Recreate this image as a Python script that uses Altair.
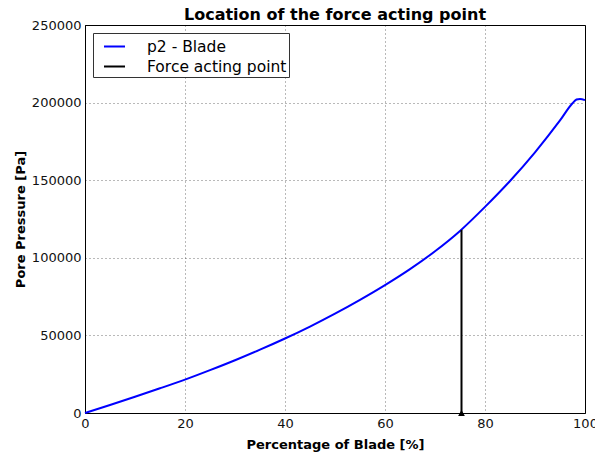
import altair as alt
import pandas as pd

# Curve: percentage of blade [%] vs pore pressure [Pa]
pct = [0, 5, 10, 15, 20, 25, 30, 35, 40, 45, 50, 55, 60, 65, 70, 75, 80, 85,
       90, 95, 97.5, 98.3, 99, 100]
pressure = [0, 5200, 10500, 15900, 21500, 27600, 34000, 40800, 48000, 55700,
            64000, 72900, 82400, 92700, 104200, 117300, 132800, 149500,
            168000, 188500, 199600, 202000, 202400, 201600]

# Force acting point
force_x = [75.3]
force_p = [118000]

series_names = ["p2 - Blade", "Force acting point"]
series_colors = ["#0000ff", "#000000"]

x_ticks = [0, 20, 40, 60, 80, 100]
y_ticks = [0, 50000, 100000, 150000, 200000, 250000]

curve_df = pd.DataFrame({"x": pct, "p": pressure, "series": series_names[0]})
force_df = pd.DataFrame({"x": force_x, "p0": [0] * len(force_x), "p": force_p,
                         "series": series_names[1]})

color = alt.Color(
    "series:N",
    scale=alt.Scale(domain=series_names, range=series_colors),
    legend=alt.Legend(title=None, symbolType="stroke"),
)

xenc = alt.X(
    "x:Q",
    scale=alt.Scale(domain=[0, 100], nice=False),
    axis=alt.Axis(values=x_ticks, title="Percentage of Blade [%]",
                  titleX=250, titleY=31, titleBaseline="middle"),
)

yaxis = alt.Axis(values=y_ticks, format="d", title="Pore Pressure [Pa]",
                 titleX=-65, titleY=194, titleAngle=-90,
                 titleBaseline="middle", titleAlign="center")

curve = alt.Chart(curve_df).mark_line(strokeWidth=2, interpolate="monotone").encode(
    x=xenc,
    y=alt.Y("p:Q", scale=alt.Scale(domain=[0, 250000], nice=False), axis=yaxis),
    color=color,
)

rule = alt.Chart(force_df).mark_rule(strokeWidth=2).encode(
    x="x:Q",
    y="p0:Q",
    y2="p:Q",
    color=color,
)

marker = alt.Chart(force_df).mark_point(shape="triangle-up", filled=True,
                                        size=45, opacity=1).encode(
    x="x:Q",
    y="p0:Q",
    color=alt.value("#000000"),
)

chart = (
    alt.layer(curve, rule, marker)
    .properties(
        width=500,
        height=388,
        title=alt.Title("Location of the force acting point", fontSize=16,
                        font="DejaVu Sans", fontWeight="bold", color="#000",
                        offset=5, dy=9),
        autosize=alt.AutoSizeParams(type="none"),
        padding={"left": 85, "top": 25, "right": 10, "bottom": 42},
    )
    .configure(background="white")
    .configure_view(stroke="#000", strokeWidth=1)
    .configure_axis(
        labelFont="DejaVu Sans",
        labelFontSize=13,
        labelColor="#111",
        labelFlush=False,
        titleFont="DejaVu Sans",
        titleFontSize=13,
        titleFontWeight="bold",
        titleColor="#000",
        domainColor="#000",
        domainWidth=1,
        ticks=False,
        labelPadding=4,
        grid=True,
        gridColor="#000",
        gridOpacity=0.55,
        gridDash=[1, 3],
        gridWidth=1,
    )
    .configure_legend(
        orient="none",
        legendX=8,
        legendY=8,
        strokeColor="#333",
        fillColor="white",
        padding=2,
        symbolSize=441,
        symbolStrokeWidth=2,
        symbolOffset=8,
        labelOffset=21,
        labelFont="DejaVu Sans",
        labelFontSize=15.5,
        labelColor="#000",
        rowPadding=0,
        cornerRadius=0,
    )
)

chart.save("out.html", embed_options={"renderer": "svg", "actions": False})
